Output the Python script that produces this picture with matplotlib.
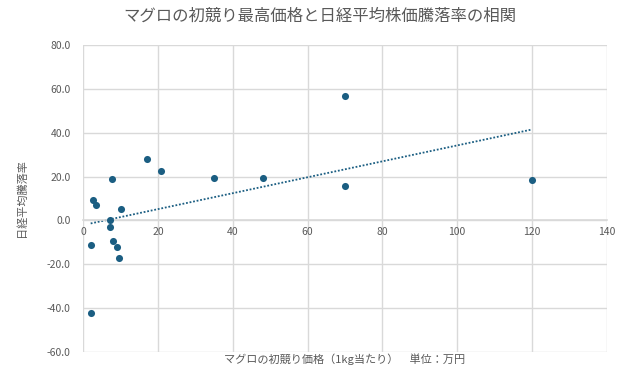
import matplotlib
matplotlib.use("Agg")
import matplotlib.pyplot as plt
import numpy as np

plt.rcParams["font.family"] = ["Noto Sans CJK JP", "DejaVu Sans"]

# Tuna first-auction price (10k yen / kg) vs Nikkei change (%)
tuna_price = [17.1, 20.9, 7.6, 2.7, 3.4, 10.0, 7.1, 7.1, 2.0, 8.1, 9.1, 9.5, 2.1,
              35.0, 48.0, 70.0, 70.0, 120.0]
nikkei_change = [28.0, 22.7, 19.1, 9.1, 7.1, 5.0, 0.1, -3.0, -11.1, -9.3, -12.3, -17.0, -42.0,
                 19.2, 19.2, 56.6, 15.9, 18.3]

COLOR = "#1B5E82"
GRID = "#D9D9D9"
TEXT = "#595959"

fig = plt.figure(figsize=(6.4, 3.79), dpi=100)
ax = fig.add_axes([0.130, 0.0712, 0.818, 0.81])

ax.scatter(tuna_price, nikkei_change, s=26, color=COLOR, zorder=3, linewidths=0)

# linear trendline
slope, intercept = np.polyfit(tuna_price, nikkei_change, 1)
xs = np.array([min(tuna_price), max(tuna_price)])
ax.plot(xs, slope * xs + intercept, color=COLOR, linestyle=(0, (1, 1)),
        linewidth=1.3, zorder=2)

ax.set_xlim(0, 140)
ax.set_ylim(-60, 80)
ax.set_xticks(np.arange(0, 141, 20))
ax.set_yticks(np.arange(-60, 81, 20))
ax.set_yticklabels([f"{v:.1f}" for v in np.arange(-60, 81, 20)])

ax.grid(True, color=GRID, linewidth=1)
ax.set_axisbelow(True)
for side in ["top", "right", "left"]:
    ax.spines[side].set_visible(False)
ax.spines["bottom"].set_position(("data", 0))
ax.spines["bottom"].set_color(GRID)
ax.spines["bottom"].set_linewidth(1.2)
ax.tick_params(axis="both", length=0, labelsize=7.5, labelcolor=TEXT)
ax.tick_params(axis="y", pad=9)
ax.tick_params(axis="x", pad=5)

ax.set_ylabel("日経平均騰落率", fontsize=8, color=TEXT, labelpad=14)
fig.text(0.539, 0.052, "マグロの初競り価格（1kg当たり）　単位：万円",
         fontsize=8, color=TEXT, ha="center", va="center")
fig.suptitle("マグロの初競り最高価格と日経平均株価騰落率の相関",
             fontsize=11.8, color=TEXT, x=0.5, y=0.98)

fig.savefig("out.png", dpi=100)
